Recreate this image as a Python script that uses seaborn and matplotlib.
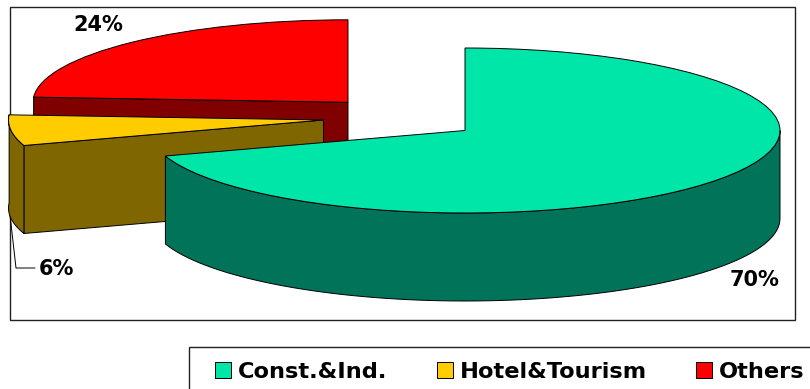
import numpy as np
import matplotlib
matplotlib.use("Agg")
import matplotlib.pyplot as plt
from matplotlib.patches import Polygon, Rectangle
import seaborn as sns

categories = ["Const.&Ind.", "Hotel&Tourism", "Others"]
shares = [70, 6, 24]
top_colors = ["#00E5A8", "#FFCC00", "#FF0000"]
wall_colors = ["#007359", "#806600", "#800000"]

W, H = 810, 389
RX, RY, DEPTH = 315.0, 82.5, 88.0
CENTERS_PX = [(465, 130.5), (323.5, 120), (348, 102.3)]

sns.set_theme(style="white")
plt.rcParams["font.family"] = ["DejaVu Sans"]
FONT = dict(family="DejaVu Sans", weight="bold")


def X(px):
    return px / RX


def Y(py):
    return -py / RY


fig = plt.figure(figsize=(W / 100, H / 100), dpi=100, facecolor="white")
ax = fig.add_axes([0, 0, 1, 1])

wedges, _ = ax.pie(
    shares, colors=top_colors, startangle=90, counterclock=False,
    wedgeprops=dict(edgecolor="black", linewidth=0.7),
)
ax.set_aspect("auto")
ax.set_xlim(0, X(W))
ax.set_ylim(Y(H), 0)
ax.set_axis_off()

# chart frame
ax.add_patch(Rectangle((X(10), Y(320)), (795 - 10) / RX, 313 / RY, fill=False,
                       edgecolor="#222222", linewidth=1.0, zorder=1))

dz = DEPTH / RY
for i, (w, (cx, cy)) in enumerate(zip(wedges, CENTERS_PX)):
    c = (X(cx), Y(cy))
    w.set_center(c)
    w.set_zorder(3 + 3 * {2: 0, 1: 1, 0: 2}[i])
    base = w.get_zorder() - 1
    t1, t2 = w.theta1, w.theta2

    def add_wall(pts):
        ax.add_patch(Polygon(pts, closed=True, facecolor=wall_colors[i],
                             edgecolor="black", linewidth=0.7, zorder=base))

    # radial cut face, visible for the two slices pulled to the left
    if i > 0:
        th = np.deg2rad(t2)
        rim = (c[0] + np.cos(th), c[1] + np.sin(th))
        add_wall([c, rim, (rim[0], rim[1] - dz), (c[0], c[1] - dz)])
    # outer curved wall, only where the rim faces the viewer
    if i < 2:
        hi = min(t2, 0.0)
        ang = np.deg2rad(np.linspace(t1, hi, 80))
        tx, ty = c[0] + np.cos(ang), c[1] + np.sin(ang)
        add_wall(list(zip(tx, ty)) + list(zip(tx[::-1], ty[::-1] - dz)))

label_pos = [(755, 280), (56, 269), (98, 25)]
for v, (px, py) in zip(shares, label_pos):
    ax.text(X(px), Y(py), f"{v}%", ha="center", va="center", fontsize=15,
            color="black", zorder=20, **FONT)
ax.plot([X(10), X(16), X(35)], [Y(215), Y(268), Y(268)], color="black", lw=0.7, zorder=2)

# legend box runs past the right and bottom of the picture
ax.add_patch(Rectangle((X(189), Y(400)), 700 / RX, 53 / RY, facecolor="white",
                       edgecolor="#222222", linewidth=1.0, zorder=25))
leg = ax.legend(
    wedges, categories, loc="center left", ncol=3, frameon=False,
    bbox_to_anchor=(215 / W, 1 - 371.5 / H), borderaxespad=0, borderpad=0,
    labelcolor="black",
    prop=dict(family="DejaVu Sans", weight="bold", size=16.2),
    handlelength=0.71, handleheight=0.71, handletextpad=0.31, columnspacing=2.2,
)
leg.set_zorder(30)
fig.savefig("out.png", dpi=100)
